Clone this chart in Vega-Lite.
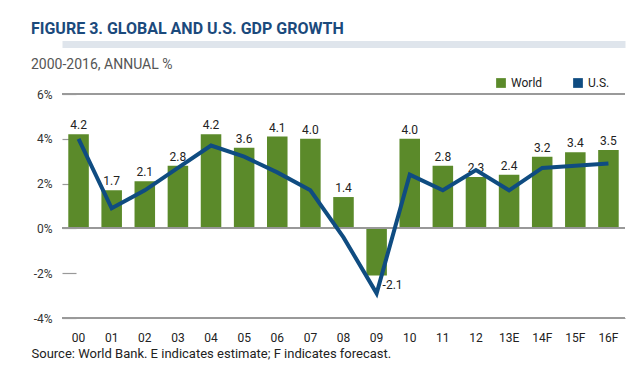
{
  "$schema": "https://vega.github.io/schema/vega-lite/v6.json",
  "width": 563,
  "height": 224,
  "autosize": {"type": "none"},
  "padding": {"left": 62, "top": 94, "right": 17, "bottom": 62},
  "background": "white",
  "config": {
    "font": "Roboto, Liberation Sans, sans-serif",
    "view": {"stroke": null},
    "locale": {"number": {"decimal": ".", "thousands": ",", "grouping": [3], "currency": ["$", ""], "minus": "-"}}
  },
  "title": {
    "text": "FIGURE 3. GLOBAL AND U.S. GDP GROWTH",
    "subtitle": "2000-2016, ANNUAL %",
    "anchor": "start",
    "frame": "bounds",
    "fontSize": 16,
    "fontWeight": "bold",
    "color": "#1b4a7c",
    "subtitleFontSize": 14,
    "subtitleColor": "#555555",
    "subtitlePadding": 21,
    "offset": 0,
    "dy": 28
  },
  "data": {
    "values": [
      {"year": "00", "World": 4.2, "US": 4.0},
      {"year": "01", "World": 1.7, "US": 0.9},
      {"year": "02", "World": 2.1, "US": 1.7},
      {"year": "03", "World": 2.8, "US": 2.7},
      {"year": "04", "World": 4.2, "US": 3.7},
      {"year": "05", "World": 3.6, "US": 3.2},
      {"year": "06", "World": 4.1, "US": 2.5},
      {"year": "07", "World": 4.0, "US": 1.7},
      {"year": "08", "World": 1.4, "US": -0.4},
      {"year": "09", "World": -2.1, "US": -2.9},
      {"year": "10", "World": 4.0, "US": 2.4},
      {"year": "11", "World": 2.8, "US": 1.7},
      {"year": "12", "World": 2.3, "US": 2.6},
      {"year": "13E", "World": 2.4, "US": 1.7},
      {"year": "14F", "World": 3.2, "US": 2.7},
      {"year": "15F", "World": 3.4, "US": 2.8},
      {"year": "16F", "World": 3.5, "US": 2.9}
    ]
  },
  "layer": [
    {
      "mark": {"type": "bar"},
      "encoding": {
        "x": {"field": "year", "type": "nominal", "sort": null,
          "scale": {"paddingInner": 0.38, "paddingOuter": 0.19},
          "axis": {
            "orient": "bottom",
            "title": "Source: World Bank. E indicates estimate; F indicates forecast.",
            "titleAnchor": "start",
            "titleAlign": "left",
            "titleX": -31,
            "titleY": 39,
            "titleBaseline": "alphabetic",
            "titleFontSize": 13,
            "titleFontWeight": "normal",
            "titleColor": "#222222",
            "labelAngle": 0,
            "labelFontSize": 12,
            "labelColor": "#222222",
            "labelPadding": 14,
            "domain": true,
            "domainColor": "#999999",
            "domainWidth": 1.2,
            "ticks": false,
            "grid": false
          }
        },
        "y": {"field": "World", "type": "quantitative",
          "scale": {"domain": [-4, 6], "nice": false, "zero": false},
          "axis": {"orient": "left", "title": null, "values": [-4, -2, 0, 2, 4, 6], "labelExpr": "datum.value + '%'", "labelFontSize": 12, "labelColor": "#333333", "domain": false, "ticks": true, "tickSize": -14, "tickColor": "#999999", "tickWidth": 1.2, "labelPadding": 24, "grid": false}
        },
        "color": {"datum": "World", "type": "nominal",
          "scale": {"domain": ["World", "U.S."], "range": ["#5b8a2a", "#0f4c81"]},
          "legend": {
            "title": null,
            "orient": "none",
            "legendX": 433,
            "legendY": -17,
            "direction": "horizontal",
            "symbolType": "square",
            "symbolSize": 95,
            "symbolStrokeWidth": 0,
            "labelFontSize": 12,
            "labelColor": "#222222",
            "labelOffset": 4,
            "columnPadding": 29
          }
        }
      }
    },
    {
      "mark": {"type": "rule", "color": "#999999", "strokeWidth": 1.2},
      "encoding": {"y": {"datum": 6, "type": "quantitative",
        "axis": {"orient": "left", "title": null, "values": [-4, -2, 0, 2, 4, 6], "labelExpr": "datum.value + '%'", "labelFontSize": 12, "labelColor": "#333333", "domain": false, "ticks": true, "tickSize": -14, "tickColor": "#999999", "tickWidth": 1.2, "labelPadding": 24, "grid": false}}}
    },
    {
      "mark": {"type": "rule", "color": "#999999", "strokeWidth": 1.2},
      "encoding": {"y": {"datum": 0, "type": "quantitative",
        "axis": {"orient": "left", "title": null, "values": [-4, -2, 0, 2, 4, 6], "labelExpr": "datum.value + '%'", "labelFontSize": 12, "labelColor": "#333333", "domain": false, "ticks": true, "tickSize": -14, "tickColor": "#999999", "tickWidth": 1.2, "labelPadding": 24, "grid": false}}}
    },
    {
      "mark": {"type": "rule", "color": "#999999", "strokeWidth": 1.2},
      "encoding": {"y": {"datum": -4, "type": "quantitative",
        "axis": {"orient": "left", "title": null, "values": [-4, -2, 0, 2, 4, 6], "labelExpr": "datum.value + '%'", "labelFontSize": 12, "labelColor": "#333333", "domain": false, "ticks": true, "tickSize": -14, "tickColor": "#999999", "tickWidth": 1.2, "labelPadding": 24, "grid": false}}}
    },
    {
      "transform": [{"filter": "datum.World >= 0"}],
      "mark": {"type": "text", "baseline": "bottom", "dy": -2, "fontSize": 12, "color": "#222222"},
      "encoding": {
        "x": {"field": "year", "type": "nominal", "sort": null, "axis": null},
        "y": {"field": "World", "type": "quantitative",
          "axis": {"orient": "left", "title": null, "values": [-4, -2, 0, 2, 4, 6], "labelExpr": "datum.value + '%'", "labelFontSize": 12, "labelColor": "#333333", "domain": false, "ticks": true, "tickSize": -14, "tickColor": "#999999", "tickWidth": 1.2, "labelPadding": 24, "grid": false}},
        "text": {"field": "World", "type": "quantitative", "format": ".1f"}
      }
    },
    {
      "transform": [{"filter": "datum.World < 0"}],
      "mark": {"type": "text", "align": "left", "baseline": "top", "dx": 6, "dy": 5, "fontSize": 12, "color": "#222222"},
      "encoding": {
        "x": {"field": "year", "type": "nominal", "sort": null, "axis": null},
        "y": {"field": "World", "type": "quantitative",
          "axis": {"orient": "left", "title": null, "values": [-4, -2, 0, 2, 4, 6], "labelExpr": "datum.value + '%'", "labelFontSize": 12, "labelColor": "#333333", "domain": false, "ticks": true, "tickSize": -14, "tickColor": "#999999", "tickWidth": 1.2, "labelPadding": 24, "grid": false}},
        "text": {"field": "World", "type": "quantitative", "format": ".1f"}
      }
    },
    {
      "mark": {"type": "line", "color": "#0f4c81", "strokeWidth": 4, "strokeJoin": "miter"},
      "encoding": {
        "x": {"field": "year", "type": "nominal", "sort": null,
          "axis": {
            "orient": "top",
            "labels": false,
            "ticks": false,
            "title": null,
            "grid": false,
            "domain": true,
            "domainColor": "#dfe5ec",
            "domainWidth": 7,
            "offset": 50
          }
        },
        "y": {"field": "US", "type": "quantitative",
          "axis": {"orient": "left", "title": null, "values": [-4, -2, 0, 2, 4, 6], "labelExpr": "datum.value + '%'", "labelFontSize": 12, "labelColor": "#333333", "domain": false, "ticks": true, "tickSize": -14, "tickColor": "#999999", "tickWidth": 1.2, "labelPadding": 24, "grid": false}}
      }
    }
  ]
}
